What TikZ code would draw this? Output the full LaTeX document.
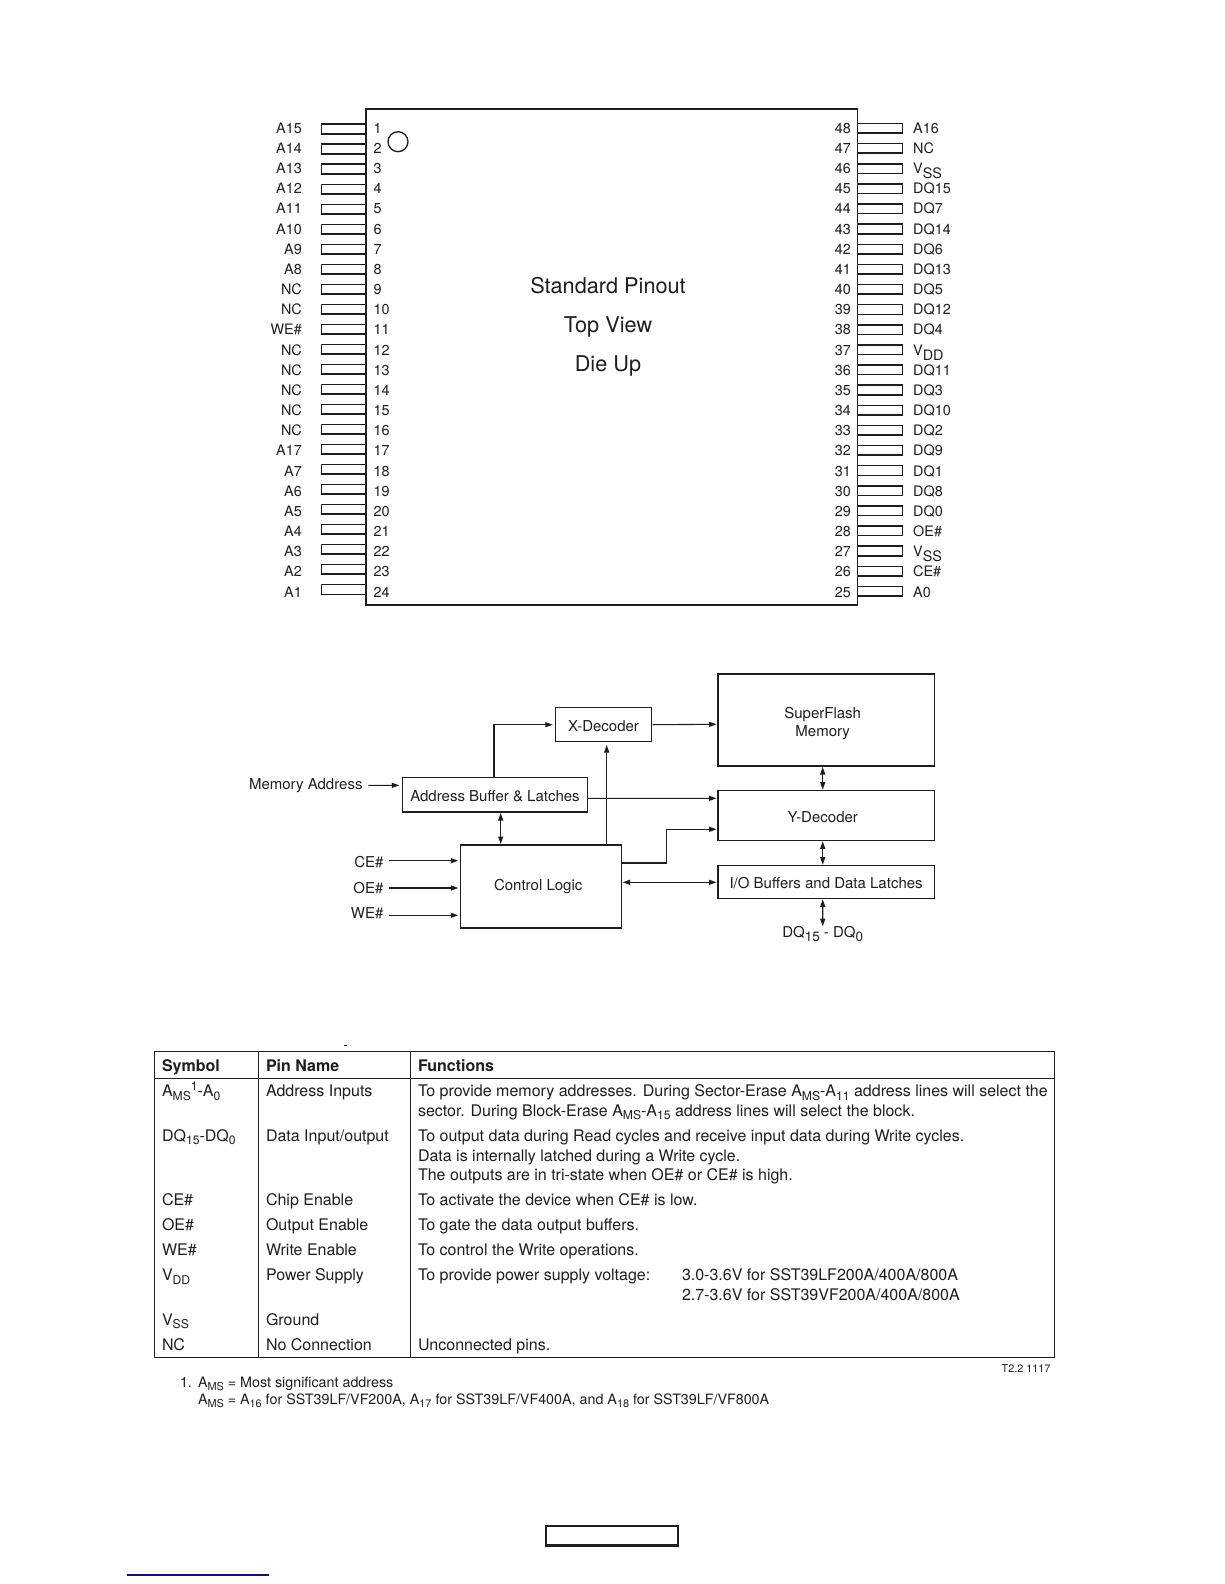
\documentclass[tikz,border=0pt]{standalone}
\usepackage{fontspec}
\usepackage{graphicx}
\setmainfont{TeX Gyre Heros}
\usetikzlibrary{arrows.meta,calc}
\newcommand\sbx[1]{\raisebox{-.22em}{\scalebox{.76}{#1}}}
\newcommand\sbz[1]{\raisebox{-.28em}{\scalebox{.9}{#1}}}
\newcommand\spx[1]{\raisebox{.38em}{\scalebox{.76}{#1}}}
\newcommand\sby[1]{\raisebox{-.36em}{#1}}
\newcommand\shifted[3]{\hspace*{#1}\raisebox{#2}[\height][\depth]{#3}}
\definecolor{ink}{HTML}{1E1E1E}
\definecolor{linkblue}{HTML}{101080}
\tikzset{
  pinbox/.style={draw=ink,line width=1.5pt,inner sep=0,outer sep=0,minimum width=45,minimum height=9.6,fill=white},
  pinlabel/.style={text=ink,inner sep=0,font=\fontsize{14.4}{16}\selectfont},
  blk/.style={draw=ink,line width=1.2pt,inner sep=0,outer sep=0,align=center,text=ink,font=\fontsize{15}{18}\selectfont},
  lbl/.style={text=ink,inner sep=0,outer sep=0,font=\fontsize{15}{18}\selectfont},
  arr/.style={draw=ink,line width=1.1pt,-{Stealth[length=7.5pt,width=5pt,inset=0pt]}},
  darr/.style={draw=ink,line width=1.1pt,{Stealth[length=7.5pt,width=5pt,inset=0pt]}-{Stealth[length=7.5pt,width=5pt,inset=0pt]}},
  tb/.style={text=ink,inner sep=0,outer sep=0,anchor=base west,font=\fontsize{16}{18}\selectfont},
  tbh/.style={tb,font=\fontsize{16}{18}\selectfont\bfseries},
  fn/.style={text=ink,inner sep=0,outer sep=0,anchor=base west,font=\fontsize{14.3}{16}\selectfont},
  rule/.style={draw=ink,line width=1.1pt}
}
\begin{document}
\begin{tikzpicture}[x=1pt,y=-1pt]
\useasboundingbox[fill=white] (0,0) rectangle (1224,1584);
% pins
\foreach \n/\t in {1/A15,2/A14,3/A13,4/A12,5/A11,6/A10,7/A9,8/A8,9/NC,10/NC,11/WE\#,12/NC,13/NC,14/NC,15/NC,16/NC,17/A17,18/A7,19/A6,20/A5,21/A4,22/A3,23/A2,24/A1}{
  \pgfmathsetmacro\yy{129+20.02*(\n-1)}
  \pgfmathsetmacro\yt{128.3+20.17*(\n-1)}
  \node[pinbox] (lp\n) at (344,\yy) {};
  \node[pinlabel,anchor=base east] (ll\n) at (302,\yt+4.9) {\t};
  \node[pinlabel,anchor=base west] (ln\n) at (373.5,\yt+4.9) {\n};
}
\foreach \n/\t in {48/A16,47/NC,46/{V\sby{SS}},45/DQ15,44/DQ7,43/DQ14,42/DQ6,41/DQ13,40/DQ5,39/DQ12,38/DQ4,37/{V\sby{DD}},36/DQ11,35/DQ3,34/DQ10,33/DQ2,32/DQ9,31/DQ1,30/DQ8,29/DQ0,28/OE\#,27/{V\sby{SS}},26/CE\#,25/A0}{
  \pgfmathsetmacro\yy{128.3+20.13*(48-\n)}
  \pgfmathsetmacro\yt{128.3+20.17*(48-\n)}
  \node[pinbox] (rp\n) at (880,\yy) {};
  \node[pinlabel,anchor=base west] (rl\n) at (913,\yt+4.9) {\t};
  \node[pinlabel,anchor=base east] (rn\n) at (851,\yt+4.9) {\n};
}
\node[draw=ink,line width=1.6pt,inner sep=0,outer sep=0,minimum width=491.5,minimum height=496] (chip) at (611.75,357) {};
\node[draw=ink,line width=1.3pt,circle,inner sep=0,minimum size=20] (dot) at (398,141.7) {};
\foreach \nm/\yy/\t in {pa/286/Standard Pinout,pb/327/Top View,pc/366/Die Up}{
  \node[text=ink,inner sep=0,font=\fontsize{21.7}{26}\selectfont] (\nm) at (608,\yy) {\t};
}
% block diagram
\node[blk,minimum width=96.4,minimum height=34] (xdec) at (603.5,724.7) {\shifted{0pt}{-1pt}{X-Decoder}};
\node[blk,minimum width=216.7,minimum height=92] (sf) at (826.35,720) {\shifted{-7.3pt}{-3.5pt}{SuperFlash}\\\shifted{-7.3pt}{-3.5pt}{Memory}};
\node[blk,minimum width=185.4,minimum height=34.3] (addr) at (495,794.85) {\shifted{0pt}{-1pt}{Address Buffer \& Latches}};
\node[blk,minimum width=216.7,minimum height=49.6] (ydec) at (826.35,815.5) {\shifted{-7.3pt}{-2pt}{Y-Decoder}};
\node[blk,minimum width=161,minimum height=83] (ctl) at (541.2,886.5) {\shifted{-6pt}{0pt}{Control Logic}};
\node[blk,minimum width=216.7,minimum height=32.6] (io) at (826.35,882) {\shifted{-0.5pt}{-1pt}{I/O Buffers and Data Latches}};
\node[lbl,anchor=east] (mem) at (362.5,786) {Memory Address};
\node[lbl,anchor=east] (ce) at (383.5,862) {CE\#};
\node[lbl,anchor=east] (oe) at (383.5,888) {OE\#};
\node[lbl,anchor=east] (we) at (383.5,913) {WE\#};
\node[lbl] (dq) at (822.7,934) {DQ\sbz{15} - DQ\sbz{0}};
\coordinate (memA) at (368.3,785.3);
\coordinate (ceA) at (389,860.7);
\coordinate (oeA) at (389,888);
\coordinate (weA) at (389,915.3);
\draw[arr] (memA) -- ([xshift=-3pt,yshift=9.5pt]addr.west);
\draw[arr] ([xshift=-1pt]addr.north) |- ([xshift=-2.5pt]xdec.west);
\draw[darr] ([xshift=5.7pt,yshift=-1pt]addr.south) -- ([xshift=-40.5pt,yshift=1pt]ctl.north);
\draw[arr] ([xshift=65.5pt]ctl.north) -- ([xshift=3.2pt,yshift=-3.3pt]xdec.south);
\draw[arr] ([xshift=1pt]xdec.east) -- ([xshift=-1.5pt,yshift=-4.3pt]sf.west);
\draw[arr] ([yshift=-3.5pt]addr.east) -- ([xshift=-1.5pt,yshift=17.2pt]ydec.west);
\draw[arr] ([yshift=23.5pt]ctl.east) -- ++(45,0) |- ([xshift=-1.5pt,yshift=-13.8pt]ydec.west);
\draw[darr] ([xshift=1pt,yshift=4.2pt]ctl.east) -- ([xshift=-1.5pt,yshift=-0.3pt]io.west);
\draw[darr] ([xshift=-3.65pt,yshift=-1pt]sf.south) -- ([xshift=-3.65pt,yshift=1pt]ydec.north);
\draw[darr] ([xshift=-3.65pt,yshift=-1pt]ydec.south) -- ([xshift=-3.65pt,yshift=1pt]io.north);
\draw[darr] ([xshift=-3.65pt,yshift=-1pt]io.south) -- ([xshift=0pt,yshift=0pt]dq.north);
\draw[arr] (ceA) -- ([xshift=-2.4pt,yshift=25.8pt]ctl.west);
\draw[arr] (oeA) -- ([xshift=-2.4pt,yshift=-1.5pt]ctl.west);
\draw[arr] (weA) -- ([xshift=-2.4pt,yshift=-28.8pt]ctl.west);
% table
\draw[rule] (154.7,1051.7) rectangle (1054.5,1357.3);
\draw[rule] (154.7,1078.3) -- (1054.5,1078.3);
\draw[rule] (258.3,1051.7) -- (258.3,1357.3);
\draw[rule] (410.3,1051.7) -- (410.3,1357.3);
\draw[draw=ink,line width=1pt] (344,1045.3) -- (346.7,1045.3);
\node[tbh] (h1) at (162,1071) {Symbol};
\node[tbh] (h2) at (266,1071) {Pin Name};
\node[tbh] (h3) at (418,1071) {Functions};
\node[tb] (a1) at (162,1096.7) {A\sbx{MS}\spx{1}-A\sbx{0}};
\node[tb] (a2) at (266,1096.7) {Address Inputs};
\node[tb] (a3) at (418,1096.7) {To provide memory addresses. During Sector-Erase A\sbx{MS}-A\sbx{11} address lines will select the};
\node[tb] (a4) at (418,1116.3) {sector. During Block-Erase A\sbx{MS}-A\sbx{15} address lines will select the block.};
\node[tb] (b1) at (162,1141.3) {DQ\sbx{15}-DQ\sbx{0}};
\node[tb] (b2) at (266,1141.3) {Data Input/output};
\node[tb] (b3) at (418,1141.3) {To output data during Read cycles and receive input data during Write cycles.};
\node[tb] (b4) at (418,1161) {Data is internally latched during a Write cycle.};
\node[tb] (b5) at (418,1180.7) {The outputs are in tri-state when OE\# or CE\# is high.};
\node[tb] (c1) at (162,1205.7) {CE\#};
\node[tb] (c2) at (266,1205.7) {Chip Enable};
\node[tb] (c3) at (418,1205.7) {To activate the device when CE\# is low.};
\node[tb] (d1) at (162,1230.7) {OE\#};
\node[tb] (d2) at (266,1230.7) {Output Enable};
\node[tb] (d3) at (418,1230.7) {To gate the data output buffers.};
\node[tb] (e1) at (162,1255.7) {WE\#};
\node[tb] (e2) at (266,1255.7) {Write Enable};
\node[tb] (e3) at (418,1255.7) {To control the Write operations.};
\node[tb] (f1) at (162,1280.7) {V\sbx{DD}};
\node[tb] (f2) at (266,1280.7) {Power Supply};
\node[tb] (f3) at (418,1280.7) {To provide power supply voltage:};
\node[tb] (f4) at (682,1280.7) {3.0-3.6V for SST39LF200A/400A/800A};
\node[tb] (f5) at (682,1300.4) {2.7-3.6V for SST39VF200A/400A/800A};
\node[tb] (g1) at (162,1325.3) {V\sbx{SS}};
\node[tb] (g2) at (266,1325.3) {Ground};
\node[tb] (k1) at (162,1350.3) {NC};
\node[tb] (k2) at (266,1350.3) {No Connection};
\node[tb] (k3) at (418,1350.3) {Unconnected pins.};
\node[text=ink,inner sep=0,anchor=base east,font=\fontsize{10.8}{13}\selectfont] (tag) at (1050.5,1372) {T2.2 1117};
\node[fn] (n0) at (180,1387.3) {1.};
\node[fn] (n1) at (198,1387.3) {A\sbx{MS} = Most significant address};
\node[fn] (n2) at (198,1404) {A\sbx{MS} = A\sbx{16} for SST39LF/VF200A, A\sbx{17} for SST39LF/VF400A, and A\sbx{18} for SST39LF/VF800A};
% bottom
\node[draw=ink,line width=2.2pt,inner sep=0,outer sep=0,minimum width=132,minimum height=19.5] (bx) at (612,1535.8) {};
\draw[draw=linkblue,line width=1.3pt] (127,1575) -- (269,1575);
\end{tikzpicture}
\end{document}
